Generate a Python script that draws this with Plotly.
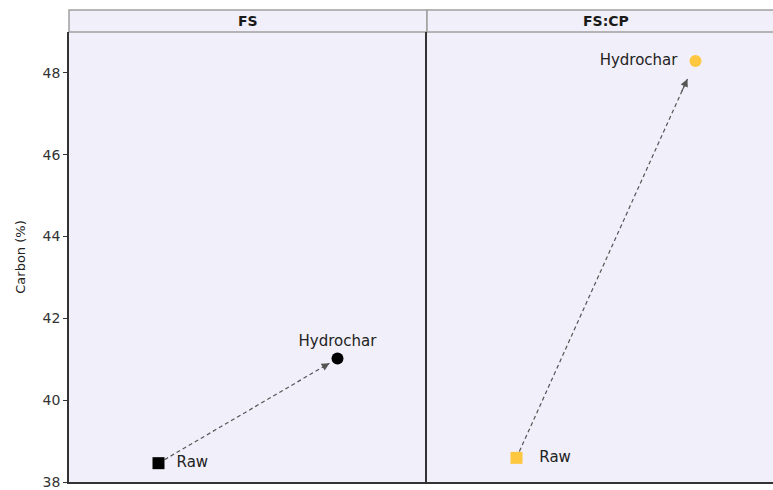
import plotly.graph_objects as go
from plotly.subplots import make_subplots

# Carbon content (%) of the raw feedstock and the resulting hydrochar
panels = ["FS", "FS:CP"]
stages = ["Raw", "Hydrochar"]
carbon_fs = [38.46, 41.02]
carbon_fscp = [38.59, 48.29]
panel_values = [carbon_fs, carbon_fscp]
panel_colors = ["#000000", "#FDC73F"]
y_ticks = [38, 40, 42, 44, 46, 48]

W, H = 773, 490
ML, MR, MT, MB = 69, 0, 32, 8
panel_px = 358                      # width of one facet in pixels
plot_w = W - ML - MR
split = panel_px / plot_w
px_per_unit = panel_px / 2.0        # x range of a full facet spans 2 units

bg = "#F1EFF9"
axis_col = "#333333"
strip_border = "#A0A0A0"
font_fam = "DejaVu Sans, Verdana, sans-serif"

fig = make_subplots(rows=1, cols=2, shared_yaxes=True, horizontal_spacing=0)

text_pos = [["middle right", "top center"], ["middle right", "middle left"]]
labels = [["  Raw", "Hydrochar"], ["   Raw", "Hydrochar  "]]

for i, (vals, col) in enumerate(zip(panel_values, panel_colors)):
    c = i + 1
    xs = [0, 1]
    xref = "x" if c == 1 else "x2"
    # dashed connector from Raw toward Hydrochar, stopping short of the marker
    f_end = 0.955
    xe = xs[0] + (xs[1] - xs[0]) * f_end
    ye = vals[0] + (vals[1] - vals[0]) * f_end
    fig.add_trace(go.Scatter(x=[xs[0], xe], y=[vals[0], ye], mode="lines",
                             line=dict(color="#555555", width=1.2, dash="4px,3px"),
                             hoverinfo="skip", showlegend=False), row=1, col=c)
    # arrow head
    f_tail = 0.92
    fig.add_annotation(x=xe, y=ye, ax=xs[0] + (xs[1] - xs[0]) * f_tail,
                       ay=vals[0] + (vals[1] - vals[0]) * f_tail,
                       xref=xref, yref="y", axref=xref, ayref="y",
                       showarrow=True, arrowhead=2, arrowsize=1.3, arrowwidth=1.2,
                       arrowcolor="#555555", text="")
    # markers with their stage labels
    for k, stage in enumerate(stages):
        fig.add_trace(go.Scatter(
            x=[xs[k]], y=[vals[k]], mode="markers+text",
            marker=dict(symbol="square" if k == 0 else "circle", size=12, color=col),
            text=[labels[i][k]],
            textposition=text_pos[i][k],
            textfont=dict(family=font_fam, size=15, color="#222222"),
            cliponaxis=False, showlegend=False,
            hovertemplate=stage + ": %{y:.2f}%<extra>" + panels[i] + "</extra>"),
            row=1, col=c)

fig.update_xaxes(showticklabels=False, ticks="", showgrid=False, zeroline=False,
                 showline=True, linecolor=axis_col, linewidth=1.5, mirror=False)
fig.update_layout(
    xaxis=dict(domain=[0, split], range=[-0.5, 1.5]),
    xaxis2=dict(domain=[split, 1], range=[-0.5, -0.5 + (plot_w - panel_px) / px_per_unit]),
)
fig.update_yaxes(range=[38, 49], tickvals=y_ticks, showgrid=False, zeroline=False,
                 showline=True, linecolor=axis_col, linewidth=1.5,
                 ticks="outside", ticklen=4, tickcolor=axis_col,
                 ticklabeloverflow="allow",
                 tickfont=dict(family=font_fam, size=14, color="#333333"))
fig.update_yaxes(title=dict(text="Carbon (%)", standoff=14,
                            font=dict(family=font_fam, size=13, color="#222222")),
                 row=1, col=1)
fig.update_yaxes(ticks="", row=1, col=2)

# facet strips
plot_h = H - MT - MB
strip_h = 22 / plot_h
for i, name in enumerate(panels):
    x0 = i * split
    x1 = x0 + split
    fig.add_shape(type="rect", xref="paper", yref="paper", x0=x0, x1=min(x1, 1.2),
                  y0=1, y1=1 + strip_h, fillcolor=bg,
                  line=dict(color=strip_border, width=1.5), layer="below")
    fig.add_annotation(xref="paper", yref="paper", x=(x0 + x1) / 2, y=1 + strip_h / 2,
                       xanchor="center", yanchor="middle",
                       text="<b>" + name + "</b>", showarrow=False,
                       font=dict(family=font_fam, size=14, color="#1a1a1a"))

fig.update_layout(
    width=W, height=H,
    margin=dict(l=ML, r=MR, t=MT, b=MB),
    paper_bgcolor="white", plot_bgcolor=bg,
    showlegend=False,
)

fig.write_html("out.html")
